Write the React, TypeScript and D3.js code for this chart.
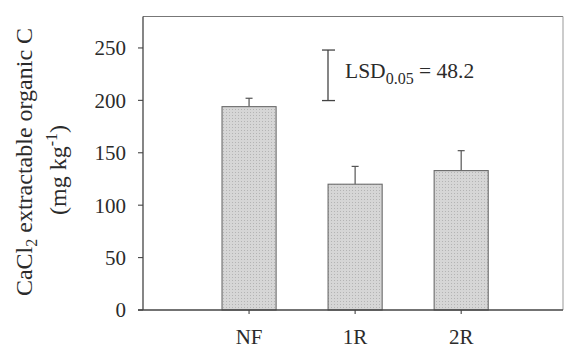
import React from "react";
import * as d3 from "d3";

// Treatments and their mean CaCl2-extractable organic C (mg/kg) with upper error
const categories = ["NF", "1R", "2R"];
const means = [194, 120, 133];
const errors = [8, 17, 19];
const yTicks = [0, 50, 100, 150, 200, 250];
const lsdValue = 48.2;
const lsdTop = 248;

const W = 564;
const H = 348;
const FONT = "'Liberation Serif', 'Times New Roman', serif";
const INK = "#2b2b2b";

export default function App() {
  const left = 143;
  const right = 563;
  const top = 16.5;
  const bottom = 310;

  const y = d3.scaleLinear().domain([0, 280]).range([bottom, top]);
  const x = d3.scaleLinear().domain([0, 3.96]).range([left, right]);
  const barW = x(0.51) - x(0);

  return (
    <svg
      width={W}
      height={H}
      style={{ position: "absolute", left: 0, top: 0, background: "#fff" }}
      fontFamily={FONT}
    >
      <defs>
        <pattern id="dots" width="3" height="3" patternUnits="userSpaceOnUse">
          <rect width="3" height="3" fill="#d6d6d6" />
          <rect x="1" y="1" width="1" height="1" fill="#b4b4b4" />
        </pattern>
      </defs>

      {/* frame */}
      <line x1={left} x2={right} y1={top} y2={top} stroke="#777" strokeWidth={1.2} />
      <line x1={right} x2={right} y1={top} y2={bottom} stroke="#999" strokeWidth={1} />

      {/* bars */}
      {categories.map((c, i) => {
        const cx = x(i + 1);
        return (
          <g key={c}>
            <line
              x1={cx}
              x2={cx}
              y1={y(means[i])}
              y2={y(means[i] + errors[i])}
              stroke="#555"
              strokeWidth={1.2}
            />
            <line
              x1={cx - 3.5}
              x2={cx + 3.5}
              y1={y(means[i] + errors[i])}
              y2={y(means[i] + errors[i])}
              stroke="#555"
              strokeWidth={1.2}
            />
            <rect
              x={cx - barW / 2}
              y={y(means[i])}
              width={barW}
              height={y(0) - y(means[i])}
              fill="url(#dots)"
              stroke="#6a6a6a"
              strokeWidth={1.1}
            />
          </g>
        );
      })}

      {/* y axis */}
      <line x1={left} x2={left} y1={top} y2={bottom} stroke="#444" strokeWidth={1.3} />
      {yTicks.map((t) => (
        <g key={t}>
          <line x1={left - 5} x2={left} y1={y(t)} y2={y(t)} stroke="#444" strokeWidth={1.1} />
          <text
            x={left - 17}
            y={y(t)}
            dy="0.35em"
            textAnchor="end"
            fontSize={21}
            fill={INK}
          >
            {t}
          </text>
        </g>
      ))}

      {/* x axis */}
      <line x1={left - 5} x2={right} y1={bottom} y2={bottom} stroke="#444" strokeWidth={1.3} />
      {categories.map((c, i) => (
        <g key={c}>
          <line x1={x(i + 1)} x2={x(i + 1)} y1={bottom} y2={bottom + 4} stroke="#444" strokeWidth={1.1} />
          <text x={x(i + 1)} y={344} textAnchor="middle" fontSize={21} fill={INK}>
            {c}
          </text>
        </g>
      ))}

      {/* LSD marker */}
      <g stroke="#444" strokeWidth={1.3}>
        <line x1={328} x2={328} y1={y(lsdTop)} y2={y(lsdTop - lsdValue)} />
        <line x1={322} x2={335} y1={y(lsdTop)} y2={y(lsdTop)} />
        <line x1={322} x2={335} y1={y(lsdTop - lsdValue)} y2={y(lsdTop - lsdValue)} />
      </g>
      <text x={345} y={78} fontSize={21.5} fill={INK}>
        LSD
        <tspan fontSize={16} dy={6}>0.05</tspan>
        <tspan dy={-6}> = {lsdValue}</tspan>
      </text>

      {/* y axis title */}
      <text
        transform={`translate(32,162) rotate(-90)`}
        textAnchor="middle"
        fontSize={24}
        fill={INK}
      >
        CaCl<tspan fontSize={16} dy={5}>2</tspan>
        <tspan dy={-5}> extractable organic C</tspan>
      </text>
      <text
        transform={`translate(66,170) rotate(-90)`}
        textAnchor="middle"
        fontSize={24}
        fill={INK}
      >
        (mg kg<tspan fontSize={16} dy={-9}>-1</tspan>
        <tspan dy={9}>)</tspan>
      </text>
    </svg>
  );
}
